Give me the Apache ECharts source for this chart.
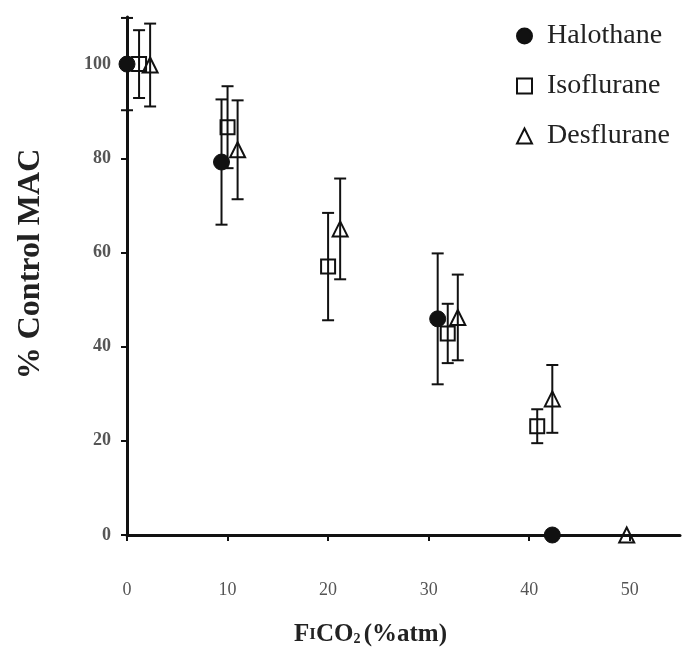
<!DOCTYPE html>
<html>
<head>
<meta charset="utf-8">
<script src="https://cdn.jsdelivr.net/npm/echarts@6/dist/echarts.min.js"></script>
<style>
  html, body { margin: 0; padding: 0; background: #fff; }
  #chart { width: 691px; height: 657px; }
</style>
</head>
<body>
<div id="chart"></div>
<script>
// readings: FiCO2 (%atm) vs % control MAC, mean and error bar half-width
const halothaneX = [0, 9.4, 30.9, 42.3];
const halothaneY = [100, 79.2, 45.9, 0];
const halothaneErr = [9.8, 13.3, 13.9, 0];

const isofluraneX = [1.2, 10.0, 20.0, 31.9, 40.8];
const isofluraneY = [100, 86.6, 57.0, 42.8, 23.1];
const isofluraneErr = [7.2, 8.7, 11.4, 6.3, 3.6];

const desfluraneX = [2.3, 11.0, 21.2, 32.9, 42.3, 49.7];
const desfluraneY = [99.8, 81.8, 65.0, 46.2, 28.9, 0];
const desfluraneErr = [8.8, 10.5, 10.7, 9.1, 7.2, 0];

const xTicks = [0, 10, 20, 30, 40, 50];
const yTicks = [0, 20, 40, 60, 80, 100];

const serif = '"Liberation Serif", "Times New Roman", serif';

function points(xs, ys) {
    return xs.map((x, i) => [x, ys[i]]);
}

// [x, low, high] for every point that has a bar
function bars(xs, ys, errs) {
    const out = [];
    xs.forEach((x, i) => {
        if (errs[i] > 0) out.push([x, ys[i] - errs[i], ys[i] + errs[i]]);
    });
    return out;
}

function renderBar(params, api) {
    const x = api.value(0);
    const lo = api.coord([x, api.value(1)]);
    const hi = api.coord([x, api.value(2)]);
    const cap = 6;
    const style = { stroke: '#111', lineWidth: 2 };
    return {
        type: 'group',
        children: [
            { type: 'line', shape: { x1: lo[0], y1: lo[1], x2: hi[0], y2: hi[1] }, style: style },
            { type: 'line', shape: { x1: lo[0] - cap, y1: lo[1], x2: lo[0] + cap, y2: lo[1] }, style: style },
            { type: 'line', shape: { x1: hi[0] - cap, y1: hi[1], x2: hi[0] + cap, y2: hi[1] }, style: style }
        ]
    };
}

function barSeries(name, xs, ys, errs) {
    return {
        type: 'custom',
        name: name + ' bars',
        renderItem: renderBar,
        data: bars(xs, ys, errs),
        encode: { x: 0, y: [1, 2] },
        z: 2,
        silent: true
    };
}

const chart = echarts.init(document.getElementById('chart'));
chart.setOption({
    backgroundColor: '#fff',
    animation: false,
    grid: { left: 127, right: 11, top: 17, bottom: 122, containLabel: false, outerBoundsMode: 'none' },
    legend: {
        orient: 'vertical',
        left: 511,
        top: 17,
        itemWidth: 15,
        itemHeight: 15,
        itemGap: 22,
        data: ['Halothane', 'Isoflurane', 'Desflurane'],
        textStyle: {
            fontFamily: serif,
            fontSize: 28,
            color: '#222',
            padding: [0, 0, 0, 10]
        }
    },
    xAxis: {
        type: 'value',
        min: 0,
        max: 55,
        interval: 10,
        splitLine: { show: false },
        axisLine: { onZero: false, lineStyle: { color: '#111', width: 3 } },
        axisTick: { length: 6, lineStyle: { color: '#111', width: 2 }, customValues: xTicks },
        axisLabel: {
            customValues: xTicks,
            margin: 46,
            fontFamily: serif,
            fontSize: 18,
            color: '#555'
        },
        name: '{b|F}{s|I}{b|CO}{sub|2} {b|(%atm)}',
        nameLocation: 'middle',
        nameGap: 87,
        nameTextStyle: {
            padding: [0, 66, 0, 0],
            rich: {
                b: { fontFamily: serif, fontWeight: 'bold', fontSize: 25, color: '#222' },
                s: { fontFamily: serif, fontWeight: 'bold', fontSize: 17, color: '#222' },
                sub: { fontFamily: serif, fontWeight: 'bold', fontSize: 14, color: '#222', padding: [10, 0, 0, 0] }
            }
        }
    },
    yAxis: {
        type: 'value',
        min: 0,
        max: 110,
        interval: 20,
        splitLine: { show: false },
        axisLine: { onZero: false, lineStyle: { color: '#111', width: 3 } },
        axisTick: { length: 6, lineStyle: { color: '#111', width: 2 }, customValues: yTicks },
        axisLabel: {
            customValues: yTicks,
            margin: 16,
            fontFamily: serif,
            fontSize: 18,
            fontWeight: 'bold',
            color: '#555'
        },
        name: '% Control MAC',
        nameLocation: 'middle',
        nameGap: 80,
        nameTextStyle: {
            fontFamily: serif,
            fontWeight: 'bold',
            fontSize: 32,
            color: '#222',
            padding: [0, 0, 0, 24]
        }
    },
    series: [
        barSeries('Halothane', halothaneX, halothaneY, halothaneErr),
        barSeries('Isoflurane', isofluraneX, isofluraneY, isofluraneErr),
        barSeries('Desflurane', desfluraneX, desfluraneY, desfluraneErr),
        {
            name: 'Halothane',
            type: 'scatter',
            symbol: 'circle',
            symbolSize: 16,
            z: 3,
            itemStyle: { color: '#111', borderColor: '#111', borderWidth: 1, opacity: 1 },
            data: points(halothaneX, halothaneY)
        },
        {
            name: 'Isoflurane',
            type: 'scatter',
            symbol: 'rect',
            symbolSize: 14,
            z: 3,
            itemStyle: { color: 'rgba(255,255,255,0)', borderColor: '#111', borderWidth: 2, opacity: 1 },
            data: points(isofluraneX, isofluraneY)
        },
        {
            name: 'Desflurane',
            type: 'scatter',
            symbol: 'triangle',
            symbolSize: 15,
            z: 3,
            itemStyle: { color: 'rgba(255,255,255,0)', borderColor: '#111', borderWidth: 2, opacity: 1 },
            data: points(desfluraneX, desfluraneY)
        }
    ]
});
</script>
</body>
</html>
